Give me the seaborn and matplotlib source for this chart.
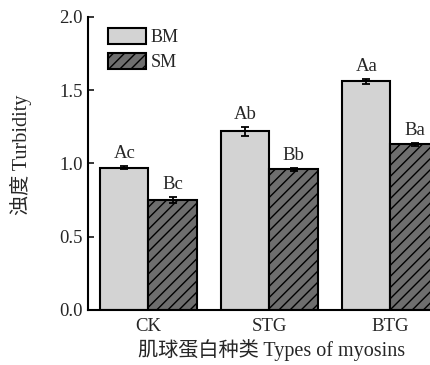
import matplotlib
matplotlib.use("Agg")
import matplotlib.pyplot as plt
import seaborn as sns
import pandas as pd
import numpy as np
from matplotlib.patches import Patch

# Turbidity of myosin types
categories = ["CK", "STG", "BTG"]
groups = ["BM", "SM"]
bm_values = [0.97, 1.22, 1.56]
sm_values = [0.75, 0.96, 1.13]
bm_errors = [0.01, 0.03, 0.015]
sm_errors = [0.02, 0.01, 0.01]
bm_letters = ["Ac", "Ab", "Aa"]
sm_letters = ["Bc", "Bb", "Ba"]
y_ticks = [0.0, 0.5, 1.0, 1.5, 2.0]

sns.set_theme(style="ticks")
plt.rcParams["font.family"] = ["Liberation Serif", "Noto Sans CJK SC"]
plt.rcParams["hatch.linewidth"] = 1.0
plt.rcParams["hatch.color"] = "black"

df = pd.DataFrame({
    "type": categories * 2,
    "group": ["BM"] * 3 + ["SM"] * 3,
    "value": bm_values + sm_values,
})

W, H = 431, 365
fig = plt.figure(figsize=(W / 100, H / 100), dpi=100)
ax = fig.add_axes([88 / W, 55 / H, (W - 88) / W, 293 / H])

colors = {"BM": "#d3d3d3", "SM": "#6e6e6e"}
sns.barplot(data=df, x="type", y="value", hue="group", order=categories,
            hue_order=groups, palette=colors, errorbar=None, width=0.8,
            edgecolor="black", linewidth=1.5, legend=False, ax=ax)

# hatch the SM bars; bars are added BM first, then SM
bars = ax.patches
for p in bars[3:6]:
    p.set_hatch("///")

x = np.arange(len(categories))
offsets = {"BM": -0.2, "SM": 0.2}
for g, vals, errs, labs in [("BM", bm_values, bm_errors, bm_letters),
                            ("SM", sm_values, sm_errors, sm_letters)]:
    xs = x + offsets[g]
    ax.errorbar(xs, vals, yerr=errs, fmt="none", ecolor="black",
                elinewidth=1.3, capsize=3, capthick=1.3, zorder=5)
    for xi, v, e, lab in zip(xs, vals, errs, labs):
        ax.annotate(lab, (xi, v + e), xytext=(0, 3), textcoords="offset points",
                    ha="center", va="bottom", fontsize=13.5)

ax.set_xlim(-0.5, 2.335)
ax.set_ylim(0, 2.0)
ax.set_yticks(y_ticks)
ax.set_yticklabels([f"{t:.1f}" for t in y_ticks])
ax.tick_params(axis="y", direction="in", length=4, width=1.3, labelsize=13.5, pad=4)
ax.tick_params(axis="x", length=0, labelsize=13.5, pad=5.5)

for s in ["top", "right"]:
    ax.spines[s].set_visible(False)
for s in ["left", "bottom"]:
    ax.spines[s].set_linewidth(1.5)
    ax.spines[s].set_color("black")

ax.set_xlabel("肌球蛋白种类 Types of myosins", fontsize=14.5)
ax.xaxis.set_label_coords(0.535, -0.100)
ax.set_ylabel("浊度 Turbidity", fontsize=14.5)
ax.yaxis.set_label_coords(-0.163, 0.53)

handles = [Patch(facecolor=colors["BM"], edgecolor="black", linewidth=1.5),
           Patch(facecolor=colors["SM"], edgecolor="black", linewidth=1.5, hatch="///")]
fig.legend(handles, groups, loc="upper left", bbox_to_anchor=(108 / W, 1 - 28 / H),
           frameon=False, fontsize=13, handlelength=2.1, handleheight=0.95,
           labelspacing=0.4, handletextpad=0.25, borderpad=0, borderaxespad=0)

fig.savefig("out.png", dpi=100)
